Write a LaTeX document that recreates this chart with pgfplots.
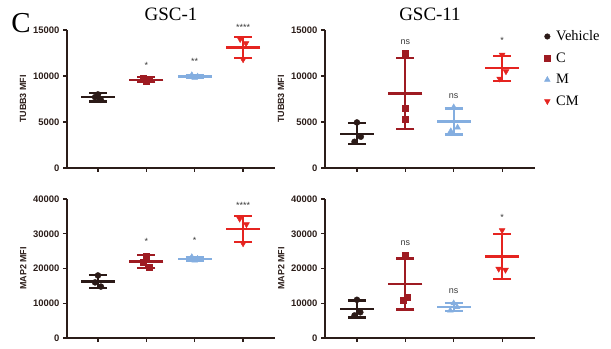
\documentclass[border=0pt]{standalone}
\usepackage{fontspec}
\setmainfont{Liberation Serif}
\setsansfont{Liberation Sans}
\usepackage{pgfplots}
\pgfplotsset{compat=1.18}

\definecolor{cV}{HTML}{2B1A17}
\definecolor{cC}{HTML}{9E1B22}
\definecolor{cM}{HTML}{84AEE0}
\definecolor{cCM}{HTML}{E52420}
\definecolor{axc}{HTML}{2B1D19}
\definecolor{sig}{HTML}{3A3A3A}

\pgfplotsset{
 panel/.style={scale only axis, width=208bp, height=138bp,
  axis lines=left, axis line style={axc, line width=1.6pt, -},
  xmin=-0.64, xmax=3.66, ymin=0,
  xtick={0,1,2,3}, xticklabels={},
  tick style={axc, line width=1.2pt}, tick align=outside, major tick length=4bp,
  tick label style={font=\sffamily\bfseries\fontsize{9.5}{10}\selectfont, text=axc},
  /pgf/number format/assume math mode=true,
  /pgf/number format/1000 sep={},
  scaled y ticks=false,
  ylabel style={font=\sffamily\bfseries\fontsize{9}{10}\selectfont, text=axc},
  title style={font=\fontsize{19}{21}\selectfont},
  clip=false, anchor=south west},
}

% x, mean, sd, colour
\newcommand{\grp}[4]{%
\addplot[only marks, color=#4, mark=-, mark size=17bp, mark options={line width=2.2pt}, forget plot,
 error bars/.cd, y dir=both, y explicit, error mark=|, error bar style={line width=2.2pt, color=#4},
 error mark options={mark size=9bp, line width=2.2pt, color=#4}] coordinates {(#1,#2) +- (0,#3)};}

\newcommand{\sig}[3]{\node[font=\sffamily\fontsize{9}{10}\selectfont, text=sig] at (axis cs:#1,#2) {#3};}

\begin{document}
\begin{tikzpicture}
\path[use as bounding box] (0,0) rectangle (611bp,349bp);
\node[font=\fontsize{29}{30}\selectfont] at (21bp,326bp) {C};

% ---------- GSC-1 TUBB3
\begin{axis}[panel, at={(67bp,181bp)}, ymax=15000, ytick={0,5000,10000,15000},
  ylabel={TUBB3 MFI}, title={GSC-1}]
\grp{0}{7700}{480}{cV}
\grp{1}{9600}{250}{cC}
\grp{2}{9950}{170}{cM}
\grp{3}{13100}{1100}{cCM}
\addplot[only marks, cV, mark=*, mark size=3bp, forget plot] coordinates {(0,8000) (-0.06,7700) (0.06,7400)};
\addplot[only marks, cC, mark=square*, mark size=2.9bp, forget plot] coordinates {(0.94,9750) (1.06,9600) (1,9400)};
\addplot[only marks, cM, mark=triangle*, mark size=3.4bp, forget plot] coordinates {(1.94,10100) (2.06,9950) (2,9800)};
\addplot[only marks, cCM, mark=triangle*, mark options={rotate=180}, mark size=3.4bp, forget plot] coordinates {(2.94,14000) (3.06,13550) (3,11800)};
\sig{1}{11200}{*}
\sig{2}{11550}{**}
\sig{3}{15300}{****}
\end{axis}

% ---------- GSC-11 TUBB3
\begin{axis}[panel, at={(325bp,181bp)}, width=210bp, xmin=-0.66, xmax=3.68, ymax=15000, ytick={0,5000,10000,15000},
  ylabel={TUBB3 MFI}, title={GSC-11},
  legend style={draw=none, fill=none, at={(1.03,1.025)}, anchor=north west,
    font=\fontsize{14.5}{16}\selectfont, row sep=6.5bp, legend cell align=left,
    nodes={inner xsep=1bp}, /tikz/every odd column/.append style={column sep=5bp}}]
\addlegendimage{only marks, cV, mark=*, mark size=2.8bp}
\addlegendentry{Vehicle}
\addlegendimage{only marks, cC, mark=square*, mark size=2.8bp}
\addlegendentry{C}
\addlegendimage{only marks, cM, mark=triangle*, mark size=3.3bp}
\addlegendentry{M}
\addlegendimage{only marks, cCM, mark=triangle*, mark options={rotate=180}, mark size=3.3bp}
\addlegendentry{CM}
\grp{0}{3730}{1150}{cV}
\grp{1}{8100}{3880}{cC}
\grp{2}{5050}{1410}{cM}
\grp{3}{10830}{1350}{cCM}
\addplot[only marks, cV, mark=*, mark size=3bp, forget plot] coordinates {(0,4950) (0.08,3400) (-0.05,2850)};
\addplot[only marks, cC, mark=square*, mark size=2.9bp, forget plot] coordinates {(1,12500) (1,6500) (1,5300)};
\addplot[only marks, cM, mark=triangle*, mark size=3.4bp, forget plot] coordinates {(2,6600) (2.08,4400) (1.94,4000)};
\addplot[only marks, cCM, mark=triangle*, mark options={rotate=180}, mark size=3.4bp, forget plot] coordinates {(3,12300) (3.08,10500) (2.95,9700)};
\sig{1}{13700}{ns}
\sig{2}{7760}{ns}
\sig{3}{13900}{*}
\end{axis}

% ---------- GSC-1 MAP2
\begin{axis}[panel, at={(67bp,11bp)}, height=139bp, ymax=40000, ytick={0,10000,20000,30000,40000},
  ylabel={MAP2 MFI}]
\grp{0}{16270}{1900}{cV}
\grp{1}{22000}{1800}{cC}
\grp{2}{22800}{600}{cM}
\grp{3}{31400}{3730}{cCM}
\addplot[only marks, cV, mark=*, mark size=3bp, forget plot] coordinates {(0,18000) (-0.06,16000) (0.06,14800)};
\addplot[only marks, cC, mark=square*, mark size=2.9bp, forget plot] coordinates {(1,23600) (0.94,21900) (1.06,20400)};
\addplot[only marks, cM, mark=triangle*, mark size=3.4bp, forget plot] coordinates {(1.94,23300) (2.06,22800) (2,22300)};
\addplot[only marks, cCM, mark=triangle*, mark options={rotate=180}, mark size=3.4bp, forget plot] coordinates {(2.93,34300) (3.07,32700) (3,27200)};
\sig{1}{27750}{*}
\sig{2}{28140}{*}
\sig{3}{38280}{****}
\end{axis}

% ---------- GSC-11 MAP2
\begin{axis}[panel, at={(325bp,11bp)}, width=210bp, height=139bp, xmin=-0.66, xmax=3.68, ymax=40000, ytick={0,10000,20000,30000,40000},
  ylabel={MAP2 MFI}]
\grp{0}{8330}{2450}{cV}
\grp{1}{15530}{7320}{cC}
\grp{2}{8930}{1150}{cM}
\grp{3}{23450}{6550}{cCM}
\addplot[only marks, cV, mark=*, mark size=3bp, forget plot] coordinates {(0,11000) (0.07,7400) (-0.05,6500)};
\addplot[only marks, cC, mark=square*, mark size=2.9bp, forget plot] coordinates {(1,24000) (1.05,11700) (0.95,10900)};
\addplot[only marks, cM, mark=triangle*, mark size=3.4bp, forget plot] coordinates {(2,10000) (2.07,8900) (1.93,7900)};
\addplot[only marks, cCM, mark=triangle*, mark options={rotate=180}, mark size=3.4bp, forget plot] coordinates {(3,31000) (2.93,19900) (3.07,19600)};
\sig{1}{27270}{ns}
\sig{2}{13400}{ns}
\sig{3}{34640}{*}
\end{axis}
\end{tikzpicture}
\end{document}
